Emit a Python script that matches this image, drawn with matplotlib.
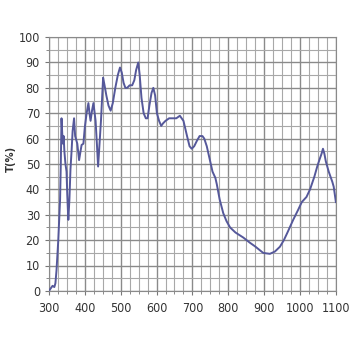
import matplotlib
matplotlib.use("Agg")
import matplotlib.pyplot as plt
from matplotlib.ticker import MultipleLocator

# wavelength (nm) and transmittance (%)
wavelength = [300, 305, 310, 315, 318, 321, 326, 331, 333, 335, 337, 339, 341, 343, 346,
              349, 351, 354, 357, 360, 363, 366, 370, 373, 379, 384, 388, 391, 396, 400,
              405, 410, 413, 416, 420, 424, 430, 434, 437, 441, 445, 451, 455, 460, 466,
              472, 478, 485, 492, 498, 503, 508, 513, 518, 525, 532, 538, 543, 549, 553,
              558, 564, 570, 575, 580, 586, 591, 596, 601, 607, 613, 618, 625, 635, 645,
              655, 665, 675, 685, 692, 698, 705, 712, 720, 728, 733, 740, 748, 756, 764,
              768, 776, 786, 795, 805, 820, 842, 860, 875, 897, 905, 916, 930, 944, 955,
              965, 981, 995, 1005, 1018, 1028, 1040, 1048, 1055, 1060, 1064, 1068, 1072,
              1076, 1080, 1085, 1090, 1094, 1097, 1100]
transmittance = [0, 1, 2, 1.5, 3, 8, 20, 36, 50, 68, 62, 58, 61, 55, 50,
                 47, 38, 28, 36, 48, 55, 63, 68, 61, 58, 51.5, 55, 57.5, 58, 64.5,
                 70, 74, 70, 67, 71, 74, 67, 57, 49, 58, 67, 84, 81, 77, 73,
                 71, 74, 80, 85, 88, 86, 82, 80, 80, 81, 81, 83, 87, 90, 85,
                 76, 70, 68, 68, 73, 78, 80, 77, 70, 67, 65, 66, 67, 68, 68,
                 68, 69, 67, 61, 57, 56, 57, 59, 61, 61, 60, 57, 52, 47, 44.5,
                 42, 36, 30.6, 27.5, 25, 23, 21, 19, 17.5, 15, 14.8, 14.6, 15.5, 17.4, 20,
                 23, 28, 32, 35, 37, 40, 45, 49, 52, 54, 56, 54, 51,
                 49, 47, 45, 43, 41, 38, 35]

x_ticks = [300, 400, 500, 600, 700, 800, 900, 1000, 1100]
y_ticks = [0, 10, 20, 30, 40, 50, 60, 70, 80, 90, 100]

plt.rcParams['font.family'] = ['DejaVu Sans']
plt.rcParams['font.stretch'] = 'condensed'

fig = plt.figure(figsize=(3.6, 3.6), dpi=100)
ax = fig.add_axes([0.136, 0.192, 0.797, 0.705])

ax.plot(wavelength, transmittance, color='#55589a', linewidth=1.4, zorder=3)

ax.set_xlim(300, 1100)
ax.set_ylim(0, 100)
ax.set_xticks(x_ticks)
ax.set_yticks(y_ticks)
ax.xaxis.set_minor_locator(MultipleLocator(25))
ax.yaxis.set_minor_locator(MultipleLocator(5))
ax.grid(which='major', color='#8a8a8a', linewidth=1.0)
ax.grid(which='minor', color='#a8a8a8', linewidth=0.8)
ax.set_axisbelow(True)

for s in ax.spines.values():
    s.set_color('#8a8a8a')
ax.tick_params(which='both', colors='#777777', labelcolor='#333333', labelsize=9, length=3)
ax.tick_params(which='minor', length=2)
ax.tick_params(axis='x', pad=5)

ax.set_ylabel('T(%)', fontsize=8, fontweight='bold', color='#333333')
ax.yaxis.set_label_coords(-0.115, 0.52)

fig.savefig('out.png', dpi=100)
